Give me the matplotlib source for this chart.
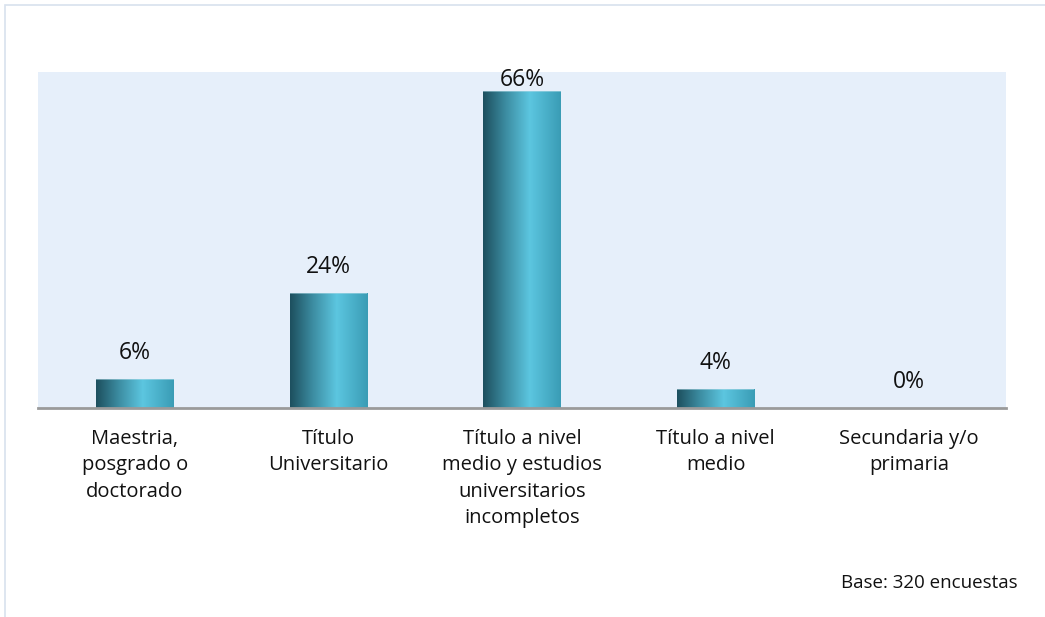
import numpy as np
import matplotlib.pyplot as plt
from matplotlib.colors import LinearSegmentedColormap
from matplotlib.patches import Rectangle

# Nivel educativo de los encuestados (%)
categorias = [
    "Maestria,\nposgrado o\ndoctorado",
    "Título\nUniversitario",
    "Título a nivel\nmedio y estudios\nuniversitarios\nincompletos",
    "Título a nivel\nmedio",
    "Secundaria y/o\nprimaria",
]
valores = [6, 24, 66, 4, 0]
etiquetas = ["6%", "24%", "66%", "4%", "0%"]

plt.rcParams['font.family'] = ['Open Sans', 'DejaVu Sans']

fig = plt.figure(figsize=(10.45, 6.17), dpi=100)

# marco exterior
marco = Rectangle((5 / 1045, -0.1), 1.2, 1 - 5 / 617 + 0.1, transform=fig.transFigure,
                  fill=False, edgecolor='#d8e2ee', linewidth=1.2)
fig.add_artist(marco)

ax = fig.add_axes([38 / 1045, 1 - 408 / 617, (1006 - 38) / 1045, (408 - 72) / 617])
ax.set_facecolor('#e6effa')

x = np.arange(len(valores))
ancho = 0.4
ax.set_xlim(-0.5, len(valores) - 0.5)
ax.set_ylim(0, 70)

# degradado tipo cilindro para las barras
cmap = LinearSegmentedColormap.from_list('cil', [
    (0.0, '#1d4f5e'), (0.3, '#3d8ea3'), (0.6, '#5cc6e0'), (1.0, '#3a9cb5')])
grad = np.linspace(0, 1, 256).reshape(1, -1)

barras = ax.bar(x, valores, width=ancho, color='none', edgecolor='none')
for b in barras:
    h = b.get_height()
    if h <= 0:
        continue
    x0 = b.get_x()
    im = ax.imshow(grad, cmap=cmap, aspect='auto',
                   extent=[x0, x0 + ancho, 0, h], zorder=2)
    im.set_clip_path(b)
    ax.add_patch(Rectangle((x0, h - 0.25), ancho, 0.25, facecolor='#b8dde8',
                           edgecolor='none', alpha=0.5, zorder=3))

for xi, v, t in zip(x, valores, etiquetas):
    y = v + 5.4 if v < 60 else v + 2.3
    ax.text(xi, y, t, ha='center', va='center', fontsize=16.5, color='#111111',
            zorder=4)

ax.set_xticks(x)
ax.set_xticklabels(categorias, fontsize=14.5, linespacing=1.43, color='#111111')
ax.tick_params(axis='x', length=0, pad=15)
ax.set_yticks([])
for lado in ['top', 'right', 'left']:
    ax.spines[lado].set_visible(False)
ax.spines['bottom'].set_color('#9a9a9a')
ax.spines['bottom'].set_linewidth(2)

fig.text(1018 / 1045, 1 - 583 / 617, "Base: 320 encuestas", ha='right', va='center',
         fontsize=13.5, color='#111111')

fig.savefig('out.png', dpi=100)
